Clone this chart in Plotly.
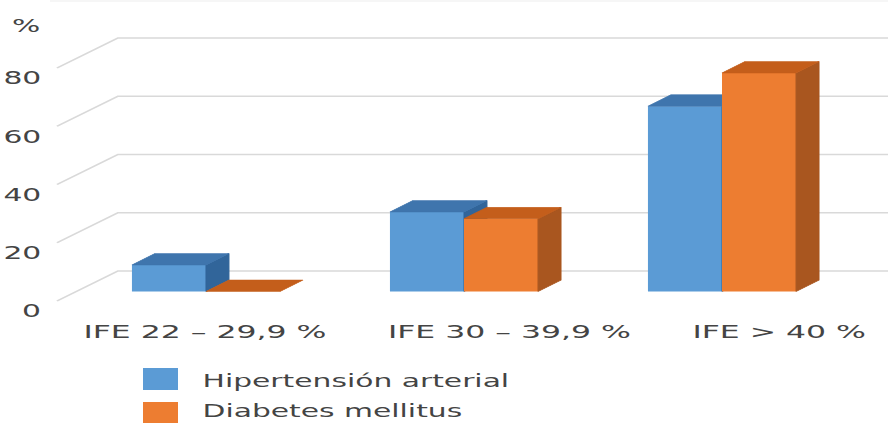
import plotly.graph_objects as go

# ---- data -------------------------------------------------------------
categories = ["IFE 22 – 29,9 %", "IFE 30 – 39,9 %", "IFE > 40 %"]
series_names = ["Hipertensión arterial", "Diabetes mellitus"]
hipertension = [9.1, 27.3, 63.6]
diabetes = [0.0, 25.0, 75.0]
y_ticks = [0, 20, 40, 60, 80]
y_title = "%"

# ---- style / 3-D geometry (category units on x, value units on y) ------
FRONT = ["#5B9BD5", "#ED7D31"]
TOP = ["#3F75AD", "#C45E1B"]
SIDE = ["#31659A", "#A9561F"]
GRID = "#D9D9D9"
TEXT = "#444444"
FONT = "DejaVu Sans"

BAR_W = 0.287                 # width of one column
BAR_DX, BAR_DY = 0.089, 3.95  # depth of a column
WALL_DX, WALL_DY = 0.2364, 10.30   # depth of floor / side wall
FLOOR_DY = -3.26              # front floor edge relative to column fronts
WALL_X = -0.5775              # front edge of the left wall
X_RANGE = [-0.7984, 2.6434]
Y_RANGE = [-45.15, 100.09]
TICK_X, TICK_DY = -0.624, -6.85
LABEL_X = [-0.002, 1.178, 2.221]
LABEL_Y = -13.7

W, H = 522, 423
STRETCH = 888 / W

fig = go.Figure()

series = [hipertension, diabetes]
axes = [("x", "y"), ("x2", "y2")]
offsets = [-BAR_W, 0.0]

for s, values in enumerate(series):
    xa, ya = axes[s]
    # front faces
    fig.add_trace(go.Bar(
        x=list(range(len(categories))), y=values, name=series_names[s],
        width=BAR_W, offset=offsets[s],
        marker=dict(color=FRONT[s], line=dict(width=0)),
        xaxis=xa, yaxis=ya, showlegend=False, hoverinfo="skip",
    ))
    top_x, top_y, side_x, side_y = [], [], [], []
    for i, v in enumerate(values):
        xl = i + offsets[s]
        xr = xl + BAR_W
        top_x += [xl, xl + BAR_DX, xr + BAR_DX, xr, xl, None]
        top_y += [v, v + BAR_DY, v + BAR_DY, v, v, None]
        if v > 0:
            side_x += [xr, xr + BAR_DX, xr + BAR_DX, xr, xr, None]
            side_y += [0, BAR_DY, v + BAR_DY, v, 0, None]
    fig.add_trace(go.Scatter(
        x=side_x, y=side_y, mode="lines", fill="toself",
        fillcolor=SIDE[s], line=dict(width=0.6, color=SIDE[s]),
        xaxis=xa, yaxis=ya, showlegend=False, hoverinfo="skip",
    ))
    fig.add_trace(go.Scatter(
        x=top_x, y=top_y, mode="lines", fill="toself",
        fillcolor=TOP[s], line=dict(width=0.6, color=TOP[s]),
        xaxis=xa, yaxis=ya, showlegend=False, hoverinfo="skip",
    ))

# gridlines: floor/side-wall diagonal + back-wall horizontal
shapes = []
for v in y_ticks:
    y0 = v + FLOOR_DY
    y1 = y0 + WALL_DY
    shapes.append(dict(
        type="path", xref="x", yref="y", layer="below",
        path=f"M {WALL_X},{y0} L {WALL_X + WALL_DX},{y1} L {X_RANGE[1] + 0.2},{y1}",
        line=dict(color=GRID, width=1.4),
    ))
shapes.append(dict(type="line", xref="paper", yref="paper", layer="below",
                   x0=50 / 888, x1=1, y0=1 - 1 / H, y1=1 - 1 / H,
                   line=dict(color="#EDEDED", width=1.2)))

annotations = []
for v in y_ticks:
    annotations.append(dict(
        x=TICK_X, y=v + TICK_DY, xref="x", yref="y", text=str(v),
        showarrow=False, xanchor="right", yanchor="middle",
        font=dict(family=FONT, size=17.5, color=TEXT),
    ))
annotations.append(dict(
    x=TICK_X, y=91.0, xref="x", yref="y", text=y_title,
    showarrow=False, xanchor="right", yanchor="middle",
    font=dict(family=FONT, size=17.5, color=TEXT),
))
for i, c in enumerate(categories):
    annotations.append(dict(
        x=LABEL_X[i], y=LABEL_Y, xref="x", yref="y", text=c,
        showarrow=False, xanchor="center", yanchor="middle",
        font=dict(family=FONT, size=18.5, color=TEXT),
    ))

# legend (swatch + label)
legend_rows = [(368, 390, 381), (402, 424, 411)]
for s, (t, b, c) in enumerate(legend_rows):
    shapes.append(dict(type="rect", xref="paper", yref="paper",
                       x0=143 / 888, x1=178 / 888, y0=1 - b / H, y1=1 - t / H,
                       fillcolor=FRONT[s], line=dict(width=0)))
    annotations.append(dict(
        x=199 / 888, y=1 - c / H, xref="paper", yref="paper",
        text=series_names[s], showarrow=False, xanchor="left", yanchor="middle",
        font=dict(family=FONT, size=17.5, color=TEXT),
    ))

axis_common = dict(visible=False, showgrid=False, zeroline=False, fixedrange=True)
fig.update_layout(
    width=W, height=H, autosize=False,
    margin=dict(l=0, r=0, t=0, b=0),
    paper_bgcolor="white", plot_bgcolor="white",
    barmode="overlay",
    xaxis=dict(range=X_RANGE, **axis_common),
    yaxis=dict(range=Y_RANGE, **axis_common),
    xaxis2=dict(range=X_RANGE, overlaying="x", **axis_common),
    yaxis2=dict(range=Y_RANGE, overlaying="y", **axis_common),
    shapes=shapes, annotations=annotations,
    showlegend=False,
)

post = (
    "document.body.style.margin='0';"
    "document.body.style.overflow='hidden';"
    "var gd=document.getElementById('{plot_id}');"
    "gd.style.transformOrigin='0 0';"
    f"gd.style.transform='scaleX({STRETCH:.5f})';"
)
fig.write_html("out.html", config={"displayModeBar": False},
               default_width=f"{W}px", default_height=f"{H}px",
               post_script=post)
